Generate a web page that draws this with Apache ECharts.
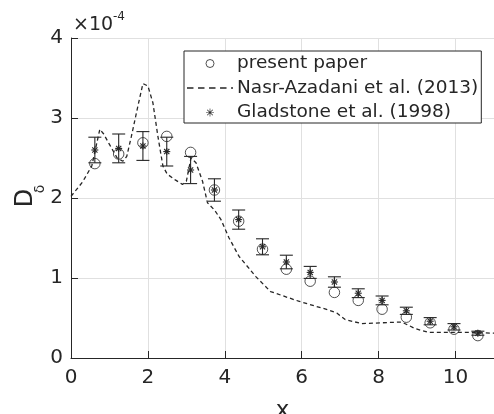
<!DOCTYPE html>
<html><head><meta charset="utf-8">
<script src="https://cdn.jsdelivr.net/npm/echarts@6/dist/echarts.min.js"></script>
<style>html,body{margin:0;padding:0;background:#fff}#c{width:494px;height:414px}</style>
</head><body><div id="c"></div>
<script>
// x positions of the samples
const xs = [0.62,1.24,1.87,2.49,3.11,3.73,4.36,4.98,5.60,6.22,6.85,7.47,8.09,8.72,9.34,9.96,10.58];
// present paper (units of 1e-4)
const present = [2.43,2.55,2.69,2.77,2.57,2.10,1.71,1.36,1.11,0.96,0.82,0.72,0.61,0.51,0.44,0.36,0.28];
// Gladstone et al. (1998) mean and error half-width
const glad = [2.60,2.62,2.65,2.58,2.35,2.10,1.73,1.39,1.20,1.07,0.95,0.81,0.72,0.59,0.46,0.39,0.31];
const gladErr = [0.16,0.18,0.18,0.18,0.17,0.14,0.12,0.10,0.085,0.075,0.065,0.055,0.055,0.045,0.045,0.04,0.025];
// Nasr-Azadani et al. (2013) curve
const nasrX = [0,0.3,0.54,0.75,0.85,1.0,1.2,1.35,1.45,1.57,1.74,1.87,2.0,2.13,2.26,2.39,2.5,2.7,2.9,3.0,3.12,3.25,3.42,3.55,3.73,3.9,4.11,4.37,4.63,4.8,5.19,5.92,6.7,6.92,7.13,7.56,8.08,8.6,8.94,9.29,9.81,10.32,11];
const nasrY = [2.02,2.2,2.40,2.86,2.80,2.67,2.50,2.46,2.52,2.77,3.15,3.43,3.40,3.19,2.77,2.40,2.30,2.23,2.17,2.21,2.50,2.44,2.21,1.94,1.85,1.73,1.50,1.27,1.12,1.02,0.83,0.71,0.60,0.56,0.48,0.43,0.44,0.45,0.37,0.32,0.32,0.32,0.31];
const xTicks = ['0','2','4','6','8','10'];
const yTicks = ['0','1','2','3','4'];

const ink = '#262626';
const font = 'DejaVu Sans';
const chart = echarts.init(document.getElementById('c'), null, {renderer:'canvas'});
const starPath = 'path://M4.6,0h0.8v10h-0.8z M0,4.6h10v0.8h-10z M1.2,1.8l0.6,-0.6l7,7l-0.6,0.6z M8.2,1.2l0.6,0.6l-7,7l-0.6,-0.6z';
const dashPath = 'path://M0,0h5v1.1h-5z M8.5,0h5v1.1h-5z M17,0h5v1.1h-5z M25.5,0h5v1.1h-5z M34,0h1.5v1.1h-1.5z';
chart.setOption({
  animation:false,
  textStyle:{fontFamily:font},
  grid:{left:71, right:0, top:38, bottom:56, containLabel:false, outerBoundsMode:'none'},
  xAxis:{type:'value', min:0, max:11, interval:2,
    axisLine:{lineStyle:{color:ink,width:1}},
    axisTick:{inside:true, length:7, lineStyle:{color:ink}},
    axisLabel:{color:ink, fontSize:20, margin:10, fontFamily:font,
      formatter:v=>{const i=Math.round(v/2); return xTicks[i]!==undefined && v%2===0 ? xTicks[i] : '';}},
    splitLine:{show:true, lineStyle:{color:'#e0e0e0', width:1}},
    name:'x', nameLocation:'middle', nameGap:42, nameTextStyle:{color:ink, fontSize:23, fontFamily:font}
  },
  yAxis:{type:'value', min:0, max:4, interval:1,
    axisLine:{show:true, lineStyle:{color:ink,width:1}},
    axisTick:{show:true, inside:true, length:7, lineStyle:{color:ink}},
    axisLabel:{color:ink, fontSize:20, margin:8, fontFamily:font, formatter:v=>yTicks[Math.round(v)]},
    splitLine:{show:true, lineStyle:{color:'#e0e0e0', width:1}}
  },
  legend:{orient:'vertical', left:184, top:51,
    padding:[3,3,1,3], itemGap:5.5, itemWidth:46, itemHeight:8,
    borderColor:ink, borderWidth:1, backgroundColor:'#fff',
    textStyle:{color:ink, fontSize:18.5, fontFamily:font, padding:[0,0,0,-1]},
    data:[
      {name:'present paper', icon:'circle', itemStyle:{color:'#fff', borderColor:ink, borderWidth:1}},
      {name:'Nasr-Azadani et al. (2013)', icon:dashPath, itemStyle:{color:ink, borderWidth:0}},
      {name:'Gladstone et al. (1998)', icon:starPath, itemStyle:{color:ink}}
    ]
  },
  graphic:[
    {type:'text', left:73, top:16, style:{text:'×10', font:'19px "DejaVu Sans"', fill:ink}},
    {type:'text', left:113, top:11, style:{text:'-4', font:'12px "DejaVu Sans"', fill:ink}},
    {type:'text', x:26, y:198, rotation:Math.PI/2, style:{text:'D', font:'24px "DejaVu Sans"', fill:ink, align:'center', verticalAlign:'middle'}},
    {type:'text', x:40, y:189, rotation:Math.PI/2, style:{text:'δ', font:'14px "DejaVu Sans"', fill:ink, align:'center', verticalAlign:'middle'}}
  ],
  series:[
    {name:'present paper', type:'scatter', symbol:'circle', symbolSize:10.5, z:2,
      itemStyle:{color:'rgba(255,255,255,0)', borderColor:ink, borderWidth:1},
      data: xs.map((x,i)=>[x,present[i]])},
    {name:'Nasr-Azadani et al. (2013)', type:'line', showSymbol:false, symbol:'none', z:3,
      lineStyle:{color:ink, width:1.3, type:[4,3]}, itemStyle:{color:ink},
      data: nasrX.map((x,i)=>[x,nasrY[i]])},
    {name:'Gladstone et al. (1998)', type:'custom', z:4, itemStyle:{color:ink},
      data: xs.map((x,i)=>[x,glad[i],glad[i]-gladErr[i],glad[i]+gladErr[i]]),
      renderItem:(params,api)=>{
        const p=api.coord([api.value(0),api.value(1)]);
        const lo=api.coord([api.value(0),api.value(2)]);
        const hi=api.coord([api.value(0),api.value(3)]);
        const cw=6.5, s=3.5, d=2.6;
        const st={stroke:ink, lineWidth:1.1, fill:null};
        const L=(x1,y1,x2,y2)=>({type:'line', shape:{x1,y1,x2,y2}, style:st});
        return {type:'group', children:[
          L(lo[0],lo[1],hi[0],hi[1]),
          L(lo[0]-cw,lo[1],lo[0]+cw,lo[1]),
          L(hi[0]-cw,hi[1],hi[0]+cw,hi[1]),
          L(p[0]-s,p[1],p[0]+s,p[1]),
          L(p[0],p[1]-s,p[0],p[1]+s),
          L(p[0]-d,p[1]-d,p[0]+d,p[1]+d),
          L(p[0]-d,p[1]+d,p[0]+d,p[1]-d)
        ]};
      }}
  ]
});
</script></body></html>
